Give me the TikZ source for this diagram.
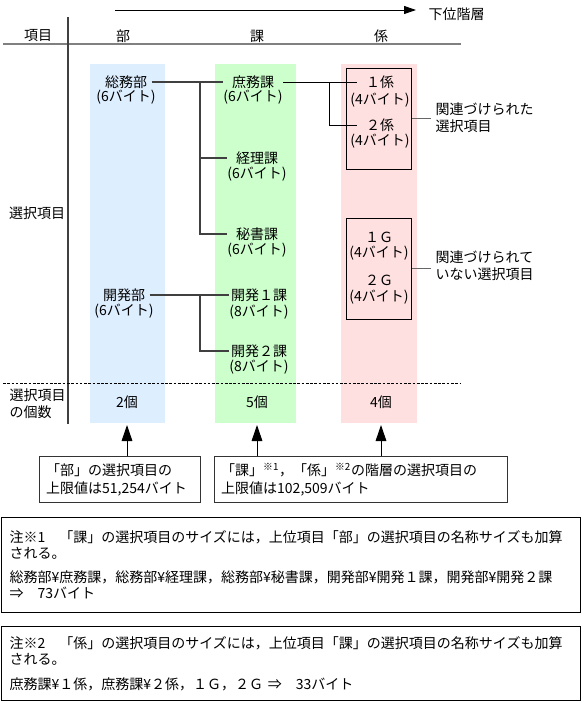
\documentclass[tikz,border=0pt]{standalone}
\usepackage{fontspec}
\setmainfont{Noto Sans CJK JP}
\usepackage{tikz}
\usetikzlibrary{arrows.meta, positioning, calc, fit}
\definecolor{buBlue}{HTML}{DDEEFF}
\definecolor{kaGreen}{HTML}{CCFFCC}
\definecolor{kkPink}{HTML}{FFE0E0}

\begin{document}
\begin{tikzpicture}[x=0.75pt, y=-0.75pt, font=\fontsize{10.5}{12.5}\selectfont,
  kaname/.style={minimum width=45pt, inner sep=0pt},
  kkname/.style={minimum width=34.5pt, inner sep=0pt},
  treeline/.style={line width=0.9pt, black!75},
  kkline/.style={line width=0.75pt, black},
  legline/.style={line width=1.1pt, black!60},
  grpbox/.style={draw, line width=0.75pt, inner sep=0pt},
  legtext/.style={anchor=west, align=left},
  limbox/.style={draw=black!80, line width=0.8pt, anchor=north west, align=left, inner xsep=5pt,
    minimum height=34.5pt, font=\fontsize{10.5}{13.5}\selectfont},
  notebox/.style={draw, line width=0.9pt, anchor=north west, align=left, inner xsep=6pt,
    text width=422.25pt, font=\fontsize{10.5}{12}\selectfont},
  uparrow/.style={line width=0.75pt, -{Triangle[length=12pt, width=8pt]}}]
  \useasboundingbox (0,0) rectangle (585,703);
  \fill[buBlue] (90,64) rectangle (165,423);
  \fill[kaGreen] (215,64) rectangle (296,423);
  \fill[kkPink] (341,64) rectangle (417,423);
  \draw[line width=1.5pt, black!50] (3,44) -- (461,44);
  \draw[line width=1pt, black!75] (68,17) -- (68,424);
  \draw[line width=0.75pt, dash pattern=on 2pt off 1.2pt] (3,383) -- (461,383);

  \node[anchor=west] (kai) at (424,14) {下位階層};
  \coordinate (arrS) at (115,10);
  \draw[line width=0.75pt, -{Triangle[length=9pt, width=6pt]}, shorten >=6pt] (arrS) -- (arrS -| kai.west);

  \node (hKoumoku) at (38,36) {項目};
  \node (hBu) at (123,36) {部};
  \node (hKa) at (257,36) {課};
  \node (hKk) at (381,36) {係};
  \node (sentaku) at (37,213) {選択項目};
  \node[legtext] (kosuu) at (5,404) {選択項目\\の個数};

  \node (somu) at (126,82) {総務部};
  \node (somuB) at (126,97) {(6バイト)};
  \node (kaihatsu) at (124,295) {開発部};
  \node (kaihatsuB) at (124,311) {(6バイト)};

  \node[kaname] (shomu) at (253,82) {庶務課};
  \node (shomuB) at (253,97) {(6バイト)};
  \node[kaname] (keiri) at (257,158) {経理課};
  \node (keiriB) at (257,174) {(6バイト)};
  \node[kaname] (hisho) at (257,234) {秘書課};
  \node (hishoB) at (257,250) {(6バイト)};
  \node[kaname] (kai1) at (259,295) {開発１課};
  \node (kai1B) at (259,312) {(8バイト)};
  \node[kaname] (kai2) at (259,351) {開発２課};
  \node (kai2B) at (259,367) {(8バイト)};

  \node[kkname] (kk1) at (380,82) {１係};
  \node (kk1B) at (380,100) {(4バイト)};
  \node[kkname] (kk2) at (380,125) {２係};
  \node (kk2B) at (380,141) {(4バイト)};
  \node (g1) at (379,237) {１Ｇ};
  \node (g1B) at (379,253) {(4バイト)};
  \node (g2) at (379,280) {２Ｇ};
  \node (g2B) at (379,297) {(4バイト)};
  \node[grpbox, fit={(346,68) (411,169)}] (grp1) {};
  \node[grpbox, fit={(346,218) (411,319)}] (grp2) {};

  \coordinate (brA) at (200,82);
  \coordinate (brB) at (200,295);
  \coordinate (brC) at (329,82);
  \draw[treeline] (somu.east) -- (shomu.west);
  \draw[treeline] (brA) |- (hisho.west);
  \draw[treeline] (keiri.west -| brA) -- (keiri.west);
  \draw[treeline] (kaihatsu.east) -- (kai1.west);
  \draw[treeline] (brB) |- (kai2.west);
  \draw[kkline] (shomu.east) -- (kk1.west);
  \draw[kkline] (brC) |- (kk2.west);

  \node[legtext] (rel1) at (431,118) {関連づけられた\\選択項目};
  \node[legtext] (rel2) at (431,266) {関連づけられて\\いない選択項目};
  \draw[legline] (grp1.east) -- (grp1.east -| rel1.west);
  \draw[legline] (grp2.east) -- (grp2.east -| rel2.west);

  \node (cntA) at (127,402) {2個};
  \node (cntB) at (257,402) {5個};
  \node (cntC) at (381,402) {4個};
  \coordinate (tipA) at (127,425);
  \coordinate (tipB) at (257,425);
  \coordinate (tipC) at (381,425);

  \node[limbox, text width=110.75pt] (limA) at (39,456) {「部」の選択項目の\\上限値は51,254バイト};
  \node[limbox, text width=209.75pt] (limB) at (214,456) {「課」\textsuperscript{※1}，「係」\textsuperscript{※2}の階層の選択項目の\\上限値は102,509バイト};
  \draw[uparrow] (limA.north -| tipA) -- (tipA);
  \draw[uparrow] (limB.north -| tipB) -- (tipB);
  \draw[uparrow] (limB.north -| tipC) -- (tipC);

  \node[notebox, minimum height=71.25pt] (note1) at (1,517) {注※1　「課」の選択項目のサイズには，上位項目「部」の選択項目の名称サイズも加算\\される。\\[6pt]総務部¥庶務課，総務部¥経理課，総務部¥秘書課，開発部¥開発１課，開発部¥開発２課\\⇒　73バイト};
  \node[notebox, minimum height=55.5pt] (note2) at (1,626) {注※2　「係」の選択項目のサイズには，上位項目「課」の選択項目の名称サイズも加算\\される。\\[7pt]庶務課¥１係，庶務課¥２係，１Ｇ，２Ｇ ⇒　33バイト};
\end{tikzpicture}
\end{document}
